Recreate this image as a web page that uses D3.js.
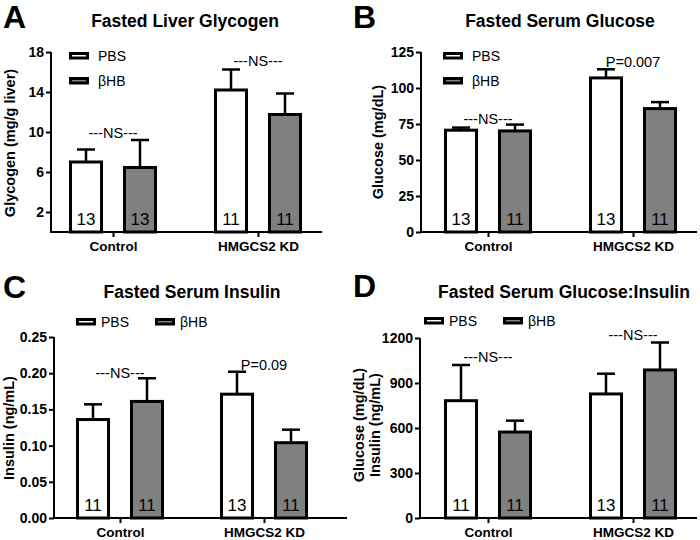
<!DOCTYPE html>
<html><head><meta charset="utf-8">
<script src="https://cdn.jsdelivr.net/npm/d3@7"></script>
<style>body{margin:0;background:#fff} svg{display:block}</style>
</head><body><svg id="c" width="700" height="540"></svg>
<script>
// ---------- data ----------
const groups = ["Control", "HMGCS2 KD"];
const series = ["PBS", "βHB"];

const glycogenPBS = [7.0, 14.2];
const glycogenPBSsem = [1.25, 2.05];
const glycogenBHB = [6.45, 11.75];
const glycogenBHBsem = [2.75, 2.1];
const glycogenNpbs = [13, 11];
const glycogenNbhb = [13, 11];
const glycogenTicks = [2, 6, 10, 14, 18];
const glycogenNotes = ["---NS---", "---NS---"];

const glucosePBS = [70.7, 107];
const glucosePBSsem = [1.8, 6];
const glucoseBHB = [70.2, 85.7];
const glucoseBHBsem = [4.4, 4.5];
const glucoseNpbs = [13, 13];
const glucoseNbhb = [11, 11];
const glucoseTicks = [0, 25, 50, 75, 100, 125];
const glucoseNotes = ["---NS---", "P=0.007"];

const insulinPBS = [0.136, 0.171];
const insulinPBSsem = [0.021, 0.031];
const insulinBHB = [0.161, 0.104];
const insulinBHBsem = [0.032, 0.018];
const insulinNpbs = [11, 13];
const insulinNbhb = [11, 11];
const insulinTicks = [0, 0.05, 0.10, 0.15, 0.20, 0.25];
const insulinNotes = ["---NS---", "P=0.09"];

const ratioPBS = [782, 827];
const ratioPBSsem = [238, 135];
const ratioBHB = [573, 987];
const ratioBHBsem = [76, 183];
const ratioNpbs = [11, 13];
const ratioNbhb = [11, 11];
const ratioTicks = [0, 300, 600, 900, 1200];
const ratioNotes = ["---NS---", "---NS---"];

// ---------- layout ----------
const FONT = "Arial, 'Liberation Sans', Helvetica, sans-serif";
const panels = [
  {letter:"A", title:"Fasted Liver Glycogen", ylabel:["Glycogen (mg/g liver)"],
   pbs:glycogenPBS, pbsSem:glycogenPBSsem, bhb:glycogenBHB, bhbSem:glycogenBHBsem,
   npbs:glycogenNpbs, nbhb:glycogenNbhb, domain:[0,18], ticks:glycogenTicks, fmt:d3.format("d"),
   notes:glycogenNotes, noteAt:[9.4,16.6],
   L:{ax:51, axEnd:322, yTop:52, yBot:232, c:[113,258], lx:3, ly:28, tx:185, ty:27,
      ylx:[15], yly:143, leg:"v", legX:69, legY:52}},
  {letter:"B", title:"Fasted Serum Glucose", ylabel:["Glucose (mg/dL)"],
   pbs:glucosePBS, pbsSem:glucosePBSsem, bhb:glucoseBHB, bhbSem:glucoseBHBsem,
   npbs:glucoseNpbs, nbhb:glucoseNbhb, domain:[0,125], ticks:glucoseTicks, fmt:d3.format("d"),
   notes:glucoseNotes, noteAt:[75,114.5],
   L:{ax:421, axEnd:697, yTop:52, yBot:232, c:[488,633], lx:353, ly:28, tx:560, ty:27,
      ylx:[383], yly:142, leg:"v", legX:443, legY:52}},
  {letter:"C", title:"Fasted Serum Insulin", ylabel:["Insulin (ng/mL)"],
   pbs:insulinPBS, pbsSem:insulinPBSsem, bhb:insulinBHB, bhbSem:insulinBHBsem,
   npbs:insulinNpbs, nbhb:insulinNbhb, domain:[0,0.25], ticks:insulinTicks, fmt:d3.format(".2f"),
   notes:insulinNotes, noteAt:[0.1934,0.2044],
   L:{ax:54, axEnd:347, yTop:337, yBot:518, c:[120,264], lx:3, ly:298, tx:192, ty:298,
      ylx:[14], yly:428, leg:"h", legX:[76,155], legY:318}},
  {letter:"D", title:"Fasted Serum Glucose:Insulin", ylabel:["Glucose (mg/dL)","Insulin (ng/mL)"],
   pbs:ratioPBS, pbsSem:ratioPBSsem, bhb:ratioBHB, bhbSem:ratioBHBsem,
   npbs:ratioNpbs, nbhb:ratioNbhb, domain:[0,1200], ticks:ratioTicks, fmt:d3.format("d"),
   notes:ratioNotes, noteAt:[1040,1187],
   L:{ax:420, axEnd:697, yTop:338, yBot:518, c:[488,633], lx:353, ly:297, tx:564, ty:298,
      ylx:[364,380], yly:425, leg:"h", legX:[424,503], legY:317}}
];

const fills = {"PBS":"#ffffff", "βHB":"#808080"};
const svg = d3.select("#c").attr("font-family", FONT);

panels.forEach(p => {
  const L = p.L;
  const g = svg.append("g");
  const y = d3.scaleLinear().domain(p.domain).range([L.yBot, L.yTop]);
  const x = d3.scalePoint().domain(groups).range(L.c);
  const inner = d3.scaleBand().domain(series).range([-44, 44]).paddingInner(0.37);

  // letter & title
  g.append("text").attr("x", L.lx).attr("y", L.ly).attr("font-size", 32)
    .attr("font-weight", "bold").text(p.letter);
  g.append("text").attr("x", L.tx).attr("y", L.ty).attr("font-size", 17.5)
    .attr("font-weight", "bold").attr("text-anchor", "middle").text(p.title);

  // y label
  p.ylabel.forEach((t, i) => {
    g.append("text").attr("transform", `translate(${L.ylx[i]},${L.yly}) rotate(-90)`)
      .attr("text-anchor", "middle").attr("font-size", 14.5).attr("font-weight", "bold").text(t);
  });

  // bars
  const rows = [];
  groups.forEach((grp, i) => {
    rows.push({grp, s:"PBS", v:p.pbs[i], e:p.pbsSem[i], n:p.npbs[i]});
    rows.push({grp, s:"βHB", v:p.bhb[i], e:p.bhbSem[i], n:p.nbhb[i]});
  });
  rows.forEach(r => {
    const x0 = x(r.grp) + inner(r.s);
    const cx = x0 + inner.bandwidth() / 2;
    g.append("line").attr("x1", cx).attr("x2", cx).attr("y1", y(r.v)).attr("y2", y(r.v + r.e))
      .attr("stroke", "#000").attr("stroke-width", 2.5);
    g.append("line").attr("x1", cx - 9).attr("x2", cx + 9).attr("y1", y(r.v + r.e)).attr("y2", y(r.v + r.e))
      .attr("stroke", "#000").attr("stroke-width", 2.5);
    g.append("rect").attr("x", x0 + 1.5).attr("width", inner.bandwidth() - 3)
      .attr("y", y(r.v)).attr("height", y(0) - y(r.v))
      .attr("fill", fills[r.s]).attr("stroke", "#000").attr("stroke-width", 3);
    g.append("text").attr("x", cx).attr("y", y(0) - 7).attr("text-anchor", "middle")
      .attr("font-size", 17).text(r.n);
  });

  // notes
  groups.forEach((grp, i) => {
    g.append("text").attr("x", x(grp)).attr("y", y(p.noteAt[i])).attr("text-anchor", "middle")
      .attr("font-size", 14.5).text(p.notes[i]);
  });

  // y axis
  const ya = g.append("g").attr("transform", `translate(${L.ax},0)`)
    .call(d3.axisLeft(y).tickValues(p.ticks).tickFormat(p.fmt).tickSize(5).tickSizeOuter(0).tickPadding(2));
  ya.select(".domain").attr("stroke-width", 2).attr("d", `M0,${L.yBot + 1}V${L.yTop}`);
  ya.selectAll(".tick line").attr("stroke-width", 2);
  ya.selectAll("text").attr("font-size", 14).attr("font-weight", "bold").attr("font-family", FONT).attr("fill", "#000");

  // x axis
  const xa = g.append("g").attr("transform", `translate(0,${L.yBot})`)
    .call(d3.axisBottom(x).tickSize(5).tickSizeOuter(0).tickPadding(4));
  xa.select(".domain").attr("stroke-width", 2).attr("d", `M${L.ax - 1},0H${L.axEnd}`);
  xa.selectAll(".tick line").attr("stroke-width", 2);
  xa.selectAll("text").attr("font-size", 13.5).attr("font-weight", "bold").attr("font-family", FONT).attr("fill", "#000");

  // legend
  series.forEach((s, j) => {
    let rx, ry;
    if (L.leg === "v") { rx = L.legX; ry = L.legY + j * 25; }
    else { rx = L.legX[j]; ry = L.legY; }
    g.append("rect").attr("x", rx + 1.5).attr("y", ry + 1.5).attr("width", 17).attr("height", 4.5)
      .attr("fill", fills[s]).attr("stroke", "#000").attr("stroke-width", 3);
    g.append("text").attr("x", rx + (L.leg === "v" ? 29 : 25)).attr("y", ry + 8.5)
      .attr("font-size", 14).text(s);
  });
});
</script>
</body></html>
